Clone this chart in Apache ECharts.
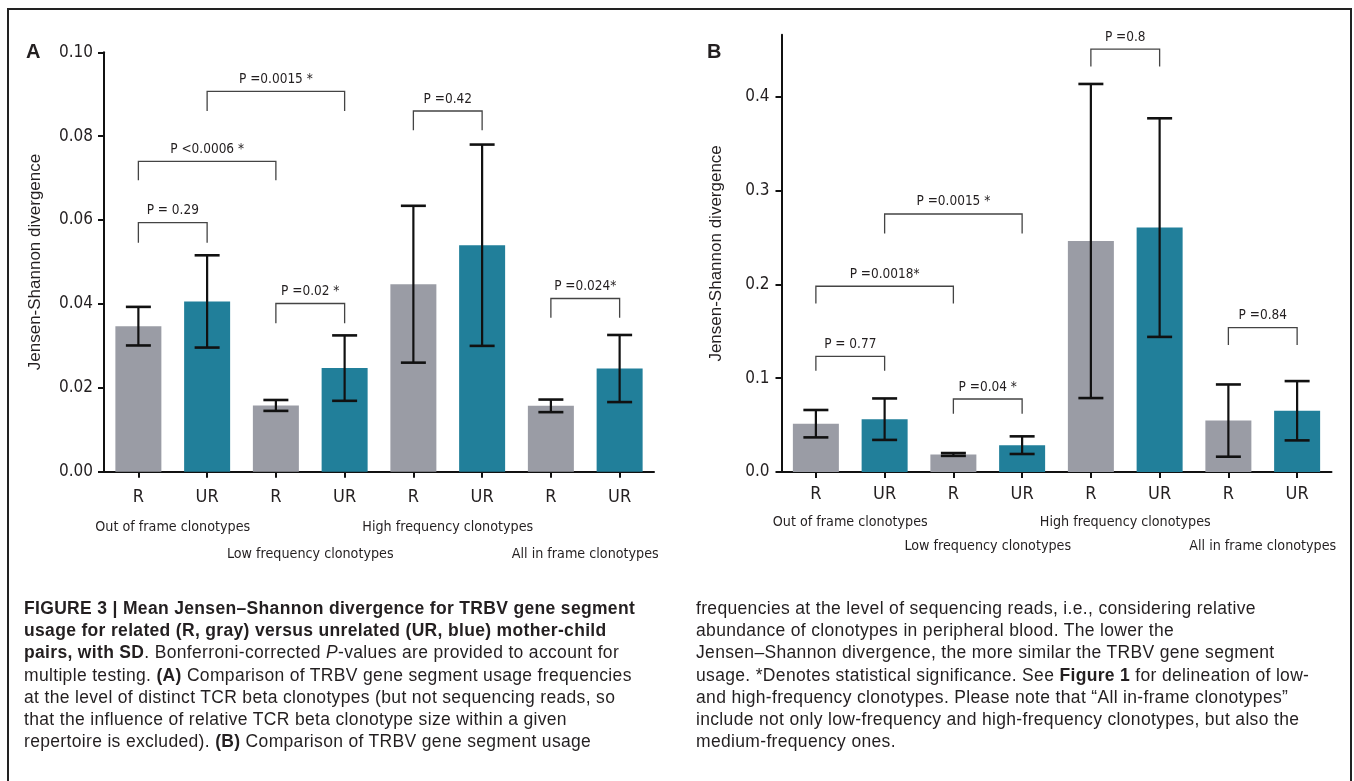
<!DOCTYPE html>
<html>
<head>
<meta charset="utf-8">
<script src="https://cdn.jsdelivr.net/npm/echarts@6/dist/echarts.min.js"></script>
<style>
  html, body { margin:0; padding:0; background:#fff; }
  #wrap { position:relative; width:1354px; height:781px; overflow:hidden; }
  #chart { position:absolute; left:0; top:0; width:1354px; height:781px; }
  #frame { position:absolute; left:7px; top:8px; width:1345px; height:800px;
           border:2px solid #222; border-bottom:none; box-sizing:border-box; }
  .cap { position:absolute; top:597px; font-family:'Liberation Sans', Arial, sans-serif;
         font-size:17.5px; letter-spacing:0.33px; line-height:22.2px; color:#231f20; white-space:nowrap; }
  #capL { left:24px; }
  #capR { left:696px; }
</style>
</head>
<body>
<div id="wrap">
  <div id="frame"></div>
  <div id="chart"></div>
  <div class="cap" id="capL"><b>FIGURE 3 | Mean Jensen–Shannon divergence for TRBV gene segment</b><br><b>usage for related (R, gray) versus unrelated (UR, blue) mother-child</b><br><b>pairs, with SD</b>. Bonferroni-corrected <i>P</i>-values are provided to account for<br>multiple testing. <b>(A)</b> Comparison of TRBV gene segment usage frequencies<br>at the level of distinct TCR beta clonotypes (but not sequencing reads, so<br>that the influence of relative TCR beta clonotype size within a given<br>repertoire is excluded). <b>(B)</b> Comparison of TRBV gene segment usage</div>
  <div class="cap" id="capR">frequencies at the level of sequencing reads, i.e., considering relative<br>abundance of clonotypes in peripheral blood. The lower the<br>Jensen–Shannon divergence, the more similar the TRBV gene segment<br>usage. *Denotes statistical significance. See <b>Figure 1</b> for delineation of low-<br>and high-frequency clonotypes. Please note that “All in-frame clonotypes”<br>include not only low-frequency and high-frequency clonotypes, but also the<br>medium-frequency ones.</div>
</div>
<script>
// categories and groups
var categories = ['R', 'UR', 'R', 'UR', 'R', 'UR', 'R', 'UR'];
var groupNames = ['Out of frame clonotypes', 'Low frequency clonotypes', 'High frequency clonotypes', 'All in frame clonotypes'];

// panel A: distinct clonotypes
var meanA = [0.0347, 0.0406, 0.0158, 0.0247, 0.0447, 0.0540, 0.0157, 0.0246];
var sdA   = [0.0046, 0.0110, 0.0013, 0.0078, 0.0187, 0.0240, 0.0015, 0.0080];
var bracketFromA = [0, 0, 1, 4, 2, 6];
var bracketToA   = [1, 2, 3, 5, 3, 7];
var bracketTopA  = [0.0594, 0.0740, 0.0907, 0.0860, 0.0401, 0.0413];
var bracketLegA  = [0.0546, 0.0695, 0.0860, 0.0814, 0.0354, 0.0367];
var bracketTextA = ['P = 0.29', 'P <0.0006 *', 'P =0.0015 *', 'P =0.42', 'P =0.02 *', 'P =0.024*'];

// panel B: sequencing reads
var meanB = [0.0515, 0.0563, 0.0187, 0.0286, 0.2462, 0.2605, 0.0548, 0.0653];
var sdB   = [0.0146, 0.0221, 0.0015, 0.0094, 0.1674, 0.1165, 0.0385, 0.0316];
var bracketFromB = [4, 1, 0, 0, 2, 6];
var bracketToB   = [5, 3, 2, 1, 3, 7];
var bracketTopB  = [0.4507, 0.2750, 0.1980, 0.1233, 0.0778, 0.1538];
var bracketLegB  = [0.4323, 0.2542, 0.1795, 0.1078, 0.0622, 0.1354];
var bracketTextB = ['P =0.8', 'P =0.0015 *', 'P =0.0018*', 'P = 0.77', 'P =0.04 *', 'P =0.84'];

var ticksB = [0, 0.1, 0.2, 0.3, 0.4];

var GRAY = '#9a9ca5', TEAL = '#217f9a';
var NARROW = "'Liberation Sans Narrow', 'DejaVu Sans Condensed', 'Roboto Condensed', 'Liberation Sans', sans-serif";
var SANS = "'Liberation Sans', Arial, sans-serif";

var chart = echarts.init(document.getElementById('chart'));

function barData(means) {
  return means.map(function (v, i) {
    return { value: v, itemStyle: { color: i % 2 ? TEAL : GRAY } };
  });
}

function errData(means, sds) {
  return means.map(function (v, i) { return [i, v - sds[i], v + sds[i]]; });
}

function bracketData(from, to, top, leg) {
  return from.map(function (f, i) { return [f, to[i], top[i], leg[i]]; });
}

function errItem(params, api) {
  var x = api.value(0);
  var hi = api.coord([x, api.value(2)]);
  var lo = api.coord([x, api.value(1)]);
  var w = 12.5;
  var st = { stroke: '#111', lineWidth: 2.2 };
  return {
    type: 'group',
    children: [
      { type: 'line', shape: { x1: hi[0], y1: hi[1], x2: lo[0], y2: lo[1] }, style: st },
      { type: 'line', shape: { x1: hi[0] - w, y1: hi[1], x2: hi[0] + w, y2: hi[1] }, style: { stroke: '#111', lineWidth: 2.6 } },
      { type: 'line', shape: { x1: lo[0] - w, y1: lo[1], x2: lo[0] + w, y2: lo[1] }, style: { stroke: '#111', lineWidth: 2.6 } }
    ]
  };
}

function bracketItem(texts) {
  return function (params, api) {
    var a = api.coord([api.value(0), api.value(2)]);
    var b = api.coord([api.value(1), api.value(2)]);
    var leg = api.coord([api.value(0), api.value(3)]);
    return {
      type: 'group',
      children: [
        { type: 'polyline',
          shape: { points: [[a[0], leg[1]], [a[0], a[1]], [b[0], b[1]], [b[0], leg[1]]] },
          style: { stroke: '#444', lineWidth: 1.3, fill: null } },
        { type: 'text',
          style: { x: (a[0] + b[0]) / 2, y: a[1] - 12, text: texts[params.dataIndex],
                   fill: '#231f20', font: '13.5px ' + NARROW, textAlign: 'center', textVerticalAlign: 'middle' } }
      ]
    };
  };
}

// group label centred between the R and UR bar of its pair
function groupItem(offsets) {
  return function (params, api) {
    var p0 = api.coord([api.value(0), 0]);
    var p1 = api.coord([api.value(1), 0]);
    var row = api.value(2);
    return {
      type: 'text',
      style: { x: (p0[0] + p1[0]) / 2, y: p0[1] + offsets[row], text: groupNames[params.dataIndex],
               fill: '#231f20', font: '14.2px ' + NARROW, textAlign: 'center', textVerticalAlign: 'middle' }
    };
  };
}

var groupData = groupNames.map(function (g, i) { return [2 * i, 2 * i + 1, i % 2]; });

var axisLine = { show: true, lineStyle: { color: '#111', width: 2 } };
var axisTick = { show: true, length: 6, lineStyle: { color: '#111', width: 2 } };

function xAxis(gridIndex, margin) {
  return {
    type: 'category', gridIndex: gridIndex, data: categories,
    axisLine: axisLine, axisTick: Object.assign({ alignWithLabel: true }, axisTick),
    axisLabel: { color: '#231f20', fontSize: 18, fontFamily: NARROW, margin: margin },
    splitLine: { show: false }
  };
}

chart.setOption({
  animation: false,
  textStyle: { fontFamily: SANS },
  graphic: [
    { type: 'text', left: 26, top: 42, style: { text: 'A', font: 'bold 20px ' + SANS, fill: '#231f20' } },
    { type: 'text', left: 707, top: 42, style: { text: 'B', font: 'bold 20px ' + SANS, fill: '#231f20' } }
  ],
  grid: [
    { left: 104, top: 52.3, width: 550, height: 419.4 },
    { left: 781.5, top: 34.8, width: 550, height: 437.2 }
  ],
  xAxis: [xAxis(0, 17), xAxis(1, 13)],
  yAxis: [
    {
      type: 'value', gridIndex: 0, min: 0, max: 0.1, interval: 0.02,
      name: 'Jensen-Shannon divergence', nameLocation: 'middle', nameRotate: 90, nameGap: 60,
      nameTextStyle: { fontSize: 17, fontFamily: SANS, color: '#231f20' },
      axisLine: axisLine, axisTick: axisTick, splitLine: { show: false },
      axisLabel: { color: '#231f20', fontSize: 17, fontFamily: NARROW, margin: 11,
                   formatter: function (v) { return v.toFixed(2); } }
    },
    {
      type: 'value', gridIndex: 1, min: 0, max: 0.466,
      name: 'Jensen-Shannon divergence', nameLocation: 'middle', nameRotate: 90, nameGap: 57,
      nameTextStyle: { fontSize: 17, fontFamily: SANS, color: '#231f20' },
      axisLine: axisLine, splitLine: { show: false },
      axisTick: Object.assign({ customValues: ticksB }, axisTick),
      axisLabel: { color: '#231f20', fontSize: 17, fontFamily: NARROW, margin: 12, customValues: ticksB,
                   formatter: function (v) { return v.toFixed(1); } }
    }
  ],
  series: [
    { type: 'bar', xAxisIndex: 0, yAxisIndex: 0, data: barData(meanA), barWidth: 46, z: 2 },
    { type: 'bar', xAxisIndex: 1, yAxisIndex: 1, data: barData(meanB), barWidth: 46, z: 2 },
    { type: 'custom', xAxisIndex: 0, yAxisIndex: 0, data: errData(meanA, sdA), renderItem: errItem,
      encode: { x: 0, y: [1, 2] }, z: 5, silent: true },
    { type: 'custom', xAxisIndex: 1, yAxisIndex: 1, data: errData(meanB, sdB), renderItem: errItem,
      encode: { x: 0, y: [1, 2] }, z: 5, silent: true },
    { type: 'custom', xAxisIndex: 0, yAxisIndex: 0,
      data: bracketData(bracketFromA, bracketToA, bracketTopA, bracketLegA),
      renderItem: bracketItem(bracketTextA), encode: { x: [0, 1], y: [2, 3] }, z: 5, silent: true },
    { type: 'custom', xAxisIndex: 1, yAxisIndex: 1,
      data: bracketData(bracketFromB, bracketToB, bracketTopB, bracketLegB),
      renderItem: bracketItem(bracketTextB), encode: { x: [0, 1], y: [2, 3] }, z: 5, silent: true },
    { type: 'custom', xAxisIndex: 0, yAxisIndex: 0, data: groupData, renderItem: groupItem([56, 83]),
      encode: { x: [0, 1] }, z: 5, silent: true, clip: false },
    { type: 'custom', xAxisIndex: 1, yAxisIndex: 1, data: groupData, renderItem: groupItem([50, 74]),
      encode: { x: [0, 1] }, z: 5, silent: true, clip: false }
  ]
});
</script>
</body>
</html>
